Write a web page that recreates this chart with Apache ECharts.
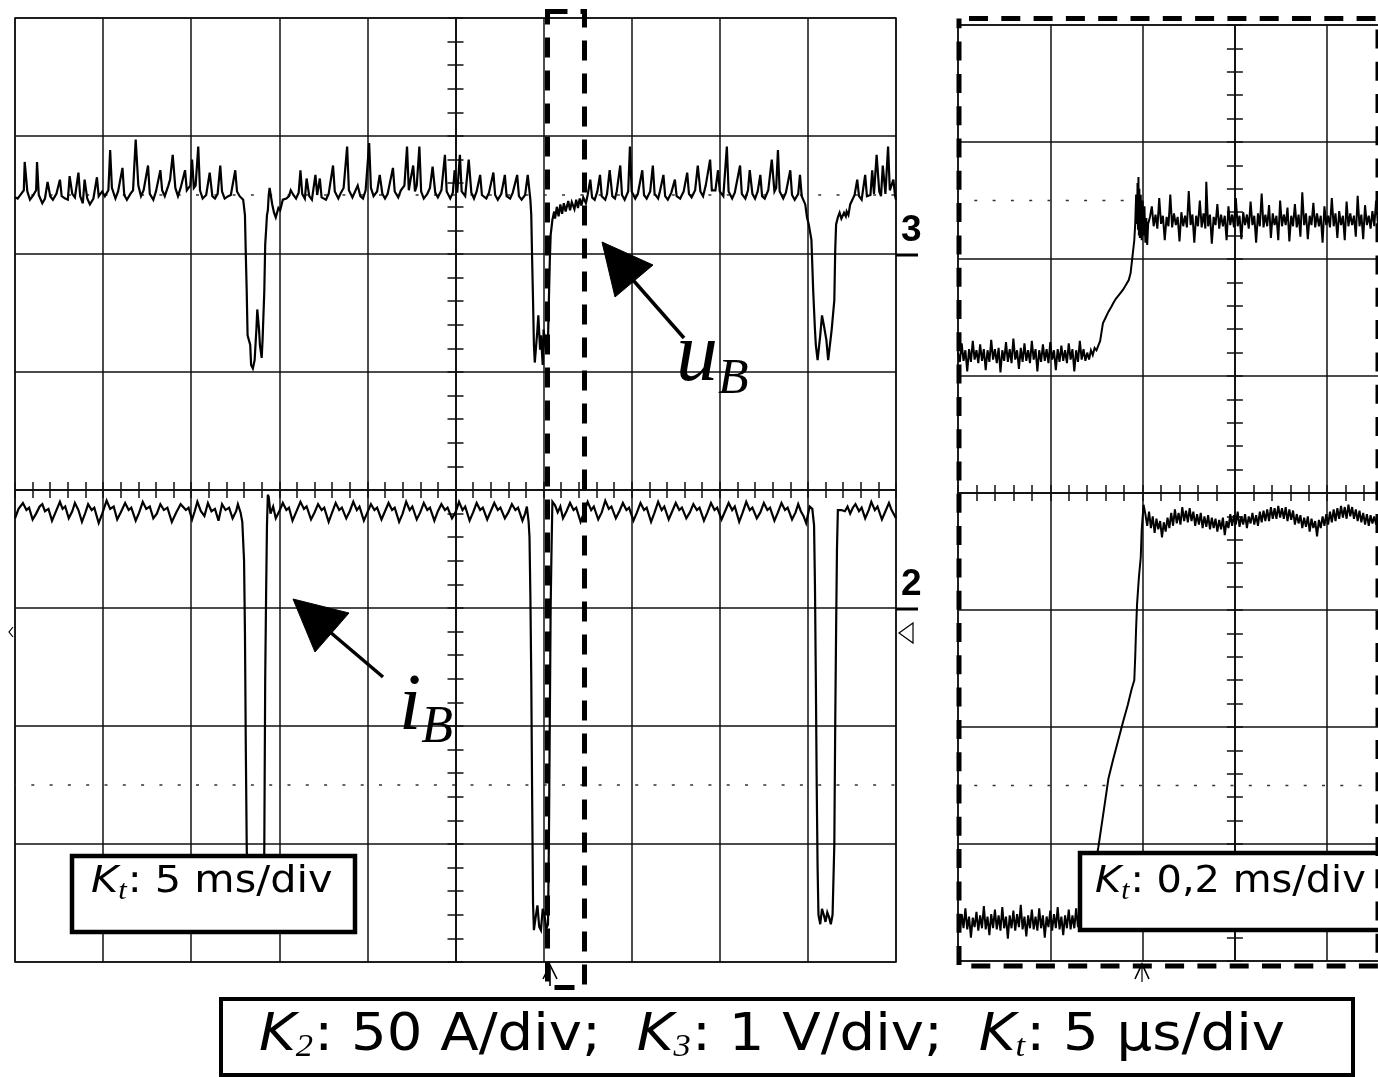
<!DOCTYPE html>
<html><head><meta charset="utf-8">
<script src="https://cdn.jsdelivr.net/npm/echarts@6/dist/echarts.min.js"></script>
<style>html,body{margin:0;padding:0;background:#fff}#c{width:1378px;height:1077px}</style>
</head><body><div id="c"></div>
<script>
// ---- Left screen (5 ms/div), x and y in divisions from screen centre ----
const uB_left = [
[-5,2.48],[-4.97,2.47],[-4.93,2.51],[-4.90,2.54],[-4.89,2.78],[-4.86,2.53],[-4.83,2.46],[-4.80,2.49],[-4.76,2.54],[-4.75,2.78],[-4.73,2.50],[-4.69,2.43],[-4.66,2.47],[-4.63,2.61],[-4.60,2.49],[-4.57,2.46],[-4.53,2.51],[-4.49,2.63],[-4.47,2.49],[-4.43,2.47],[-4.40,2.46],[-4.38,2.66],[-4.35,2.51],[-4.32,2.48],[-4.28,2.69],[-4.26,2.49],[-4.23,2.43],[-4.21,2.63],[-4.18,2.47],[-4.15,2.42],[-4.11,2.47],[-4.07,2.65],[-4.05,2.49],[-4.01,2.53],[-3.98,2.49],[-3.94,2.54],[-3.92,2.88],[-3.90,2.56],[-3.86,2.47],[-3.83,2.53],[-3.78,2.73],[-3.76,2.50],[-3.73,2.46],[-3.69,2.51],[-3.66,2.54],[-3.63,2.97],[-3.60,2.58],[-3.57,2.49],[-3.54,2.54],[-3.49,2.75],[-3.47,2.51],[-3.43,2.46],[-3.40,2.53],[-3.35,2.71],[-3.33,2.54],[-3.30,2.49],[-3.26,2.58],[-3.24,2.63],[-3.21,2.84],[-3.18,2.56],[-3.15,2.49],[-3.12,2.56],[-3.07,2.71],[-3.05,2.54],[-3.01,2.58],[-2.99,2.80],[-2.97,2.56],[-2.95,2.58],[-2.92,2.91],[-2.90,2.54],[-2.87,2.47],[-2.83,2.50],[-2.79,2.69],[-2.76,2.49],[-2.73,2.47],[-2.70,2.51],[-2.67,2.75],[-2.65,2.53],[-2.62,2.47],[-2.58,2.49],[-2.55,2.50],[-2.50,2.71],[-2.48,2.53],[-2.45,2.49],[-2.41,2.46],[-2.39,2.33],
[-2.38,1.99],[-2.37,1.69],[-2.36,1.31],[-2.33,1.23],[-2.32,1.06],[-2.30,1.03],[-2.28,1.10],[-2.26,1.36],[-2.25,1.53],[-2.23,1.36],[-2.22,1.23],[-2.20,1.12],[-2.19,1.27],[-2.17,1.69],[-2.16,2.08],[-2.15,2.20],[-2.14,2.33],[-2.13,2.37],[-2.12,2.50],[-2.11,2.56],[-2.08,2.42],[-2.06,2.35],[-2.04,2.31],[-2.01,2.39],[-1.99,2.37],[-1.96,2.46],[-1.92,2.47],[-1.89,2.49],
[-1.87,2.54],[-1.84,2.50],[-1.81,2.47],[-1.78,2.52],[-1.76,2.71],[-1.74,2.51],[-1.71,2.47],[-1.69,2.64],[-1.66,2.49],[-1.63,2.46],[-1.59,2.67],[-1.57,2.50],[-1.54,2.64],[-1.52,2.48],[-1.47,2.46],[-1.44,2.51],[-1.39,2.75],[-1.37,2.53],[-1.33,2.47],[-1.30,2.52],[-1.27,2.56],[-1.23,2.91],[-1.21,2.54],[-1.17,2.48],[-1.14,2.53],[-1.11,2.58],[-1.08,2.49],[-1.05,2.47],[-1.02,2.54],[-0.98,2.94],[-0.96,2.56],[-0.93,2.49],[-0.89,2.53],[-0.86,2.67],[-0.83,2.51],[-0.80,2.47],[-0.77,2.51],[-0.71,2.73],[-0.69,2.53],[-0.65,2.48],[-0.62,2.54],[-0.58,2.58],[-0.55,2.91],[-0.53,2.54],[-0.51,2.63],[-0.48,2.75],[-0.46,2.53],[-0.44,2.58],[-0.41,2.91],[-0.39,2.53],[-0.36,2.47],[-0.32,2.51],[-0.29,2.56],[-0.26,2.74],[-0.23,2.52],[-0.20,2.48],[-0.16,2.54],[-0.12,2.84],[-0.10,2.53],[-0.06,2.47],[-0.03,2.52],[-0.01,2.71],[0.02,2.52],[0.05,2.84],[0.07,2.53],[0.11,2.49],[0.15,2.80],[0.18,2.52],[0.21,2.47],[0.24,2.53],[0.28,2.67],[0.30,2.50],[0.35,2.47],[0.38,2.52],[0.43,2.69],[0.45,2.50],[0.48,2.46],[0.52,2.51],[0.56,2.67],[0.58,2.49],[0.62,2.47],[0.65,2.52],[0.70,2.67],[0.72,2.49],[0.75,2.46],[0.79,2.50],[0.82,2.67],[0.85,2.46],
[0.86,2.33],[0.87,1.95],[0.88,1.61],[0.89,1.23],[0.90,1.08],[0.93,1.36],[0.94,1.48],[0.96,1.19],[0.97,1.31],[0.99,1.06],[1.00,1.36],[1.03,1.17],[1.05,1.27],[1.06,1.61],[1.07,1.93],[1.08,2.16],[1.10,2.29],[1.12,2.36],[1.13,2.30],[1.15,2.40],[1.17,2.32],[1.19,2.42],[1.21,2.34],[1.23,2.43],[1.25,2.36],[1.28,2.45],[1.30,2.37],[1.32,2.44],[1.35,2.38],[1.37,2.46],[1.39,2.39],[1.41,2.47],[1.43,2.41],[1.45,2.48],[1.48,2.43],[1.50,2.50],
[1.53,2.63],[1.55,2.48],[1.58,2.46],[1.61,2.53],[1.64,2.67],[1.66,2.49],[1.70,2.46],[1.72,2.51],[1.75,2.71],[1.78,2.49],[1.81,2.47],[1.83,2.53],[1.87,2.75],[1.89,2.50],[1.92,2.46],[1.96,2.53],[1.98,2.91],[2.00,2.53],[2.04,2.47],[2.07,2.51],[2.12,2.71],[2.14,2.50],[2.17,2.47],[2.21,2.53],[2.24,2.75],[2.26,2.51],[2.30,2.47],[2.32,2.53],[2.36,2.67],[2.38,2.49],[2.41,2.46],[2.45,2.52],[2.49,2.63],[2.51,2.49],[2.55,2.47],[2.59,2.53],[2.63,2.69],[2.65,2.51],[2.68,2.48],[2.72,2.54],[2.75,2.75],[2.78,2.53],[2.81,2.49],[2.84,2.58],[2.89,2.80],[2.91,2.54],[2.95,2.54],[2.98,2.71],[3.00,2.53],[3.04,2.49],[3.08,2.91],[3.10,2.53],[3.14,2.47],[3.17,2.52],[3.23,2.75],[3.25,2.51],[3.29,2.47],[3.32,2.54],[3.34,2.71],[3.37,2.51],[3.40,2.47],[3.43,2.53],[3.46,2.67],[3.48,2.49],[3.51,2.47],[3.55,2.54],[3.59,2.80],[3.62,2.53],[3.64,2.56],[3.66,2.88],[3.68,2.53],[3.72,2.47],[3.75,2.52],[3.80,2.71],[3.82,2.50],[3.85,2.46],[3.89,2.51],[3.91,2.67],[3.93,2.49],[3.97,2.42],[3.99,2.31],
[4.01,2.25],[4.04,2.12],[4.06,1.69],[4.08,1.36],[4.09,1.23],[4.11,1.10],[4.14,1.31],[4.16,1.48],[4.18,1.40],[4.21,1.27],[4.23,1.10],[4.25,1.23],[4.27,1.36],[4.30,1.61],[4.31,2.03],[4.32,2.25],[4.34,2.31],[4.36,2.35],[4.38,2.30],[4.41,2.35],[4.43,2.32],[4.44,2.36],[4.46,2.33],[4.48,2.42],[4.50,2.43],[4.53,2.50],
[4.56,2.63],[4.58,2.49],[4.61,2.46],[4.65,2.67],[4.67,2.49],[4.71,2.50],[4.73,2.71],[4.75,2.51],[4.78,2.84],[4.81,2.53],[4.83,2.49],[4.85,2.75],[4.88,2.51],[4.91,2.91],[4.93,2.54],[4.97,2.63],[4.99,2.49],[5.00,2.46]
];
const iB_left = [
[-5,-0.24],[-4.96,-0.16],[-4.91,-0.11],[-4.87,-0.17],[-4.84,-0.15],[-4.80,-0.25],[-4.76,-0.20],[-4.72,-0.14],[-4.69,-0.12],[-4.66,-0.18],[-4.62,-0.16],[-4.58,-0.26],[-4.54,-0.19],[-4.49,-0.10],[-4.46,-0.16],[-4.43,-0.14],[-4.39,-0.24],[-4.35,-0.18],[-4.32,-0.11],[-4.28,-0.17],[-4.24,-0.27],[-4.20,-0.19],[-4.17,-0.12],[-4.13,-0.17],[-4.10,-0.15],[-4.05,-0.28],[-4.01,-0.20],[-3.96,-0.09],[-3.92,-0.16],[-3.88,-0.14],[-3.84,-0.25],[-3.80,-0.19],[-3.75,-0.11],[-3.71,-0.17],[-3.68,-0.15],[-3.63,-0.26],[-3.59,-0.19],[-3.55,-0.10],[-3.51,-0.16],[-3.47,-0.14],[-3.43,-0.24],[-3.39,-0.20],[-3.35,-0.12],[-3.31,-0.17],[-3.27,-0.15],[-3.22,-0.27],[-3.17,-0.19],[-3.12,-0.12],[-3.10,-0.11],[-3.06,-0.17],[-3.03,-0.15],[-2.99,-0.25],[-2.96,-0.18],[-2.93,-0.10],[-2.89,-0.18],[-2.85,-0.22],[-2.81,-0.11],[-2.77,-0.18],[-2.73,-0.16],[-2.69,-0.26],[-2.65,-0.12],[-2.61,-0.17],[-2.57,-0.15],[-2.53,-0.24],[-2.49,-0.18],[-2.47,-0.12],[-2.44,-0.19],[-2.42,-0.27],
[-2.41,-0.28],[-2.40,-0.6],[-2.39,-1.2],[-2.38,-2.2],[-2.37,-3.0],[-2.36,-3.6],[-2.35,-3.72],
[-2.32,-3.55],[-2.29,-3.74],[-2.26,-3.58],[-2.23,-3.72],[-2.20,-3.65],[-2.18,-3.73],
[-2.17,-3.0],[-2.16,-1.6],[-2.15,-0.9],[-2.14,-0.3],[-2.13,-0.04],
[-2.12,-0.06],[-2.10,-0.20],[-2.07,-0.14],[-2.04,-0.24],[-2.00,-0.18],[-1.96,-0.11],[-1.92,-0.17],[-1.89,-0.15],[-1.85,-0.26],[-1.81,-0.19],[-1.76,-0.10],[-1.72,-0.16],[-1.69,-0.14],[-1.64,-0.25],[-1.60,-0.19],[-1.56,-0.12],[-1.52,-0.17],[-1.49,-0.15],[-1.44,-0.27],[-1.40,-0.19],[-1.36,-0.11],[-1.32,-0.17],[-1.29,-0.15],[-1.24,-0.24],[-1.20,-0.18],[-1.16,-0.10],[-1.12,-0.17],[-1.09,-0.14],[-1.04,-0.26],[-1.00,-0.19],[-0.96,-0.12],[-0.92,-0.17],[-0.89,-0.15],[-0.84,-0.25],[-0.80,-0.18],[-0.76,-0.11],[-0.72,-0.17],[-0.69,-0.15],[-0.64,-0.27],[-0.60,-0.20],[-0.56,-0.10],[-0.52,-0.17],[-0.49,-0.14],[-0.44,-0.25],[-0.40,-0.19],[-0.36,-0.11],[-0.32,-0.17],[-0.29,-0.15],[-0.24,-0.26],[-0.20,-0.18],[-0.16,-0.12],[-0.12,-0.17],[-0.09,-0.15],[-0.04,-0.24],[0.00,-0.19],[0.04,-0.10],[0.08,-0.17],[0.11,-0.14],[0.16,-0.26],[0.20,-0.19],[0.24,-0.11],[0.28,-0.17],[0.31,-0.15],[0.36,-0.25],[0.40,-0.18],[0.44,-0.11],[0.48,-0.17],[0.51,-0.15],[0.56,-0.24],[0.60,-0.19],[0.64,-0.12],[0.68,-0.17],[0.71,-0.15],[0.76,-0.26],[0.79,-0.20],[0.81,-0.14],[0.83,-0.27],
[0.84,-0.40],[0.85,-0.9],[0.86,-1.6],[0.87,-2.6],[0.88,-3.5],[0.89,-3.73],
[0.91,-3.62],[0.93,-3.52],[0.95,-3.70],[0.97,-3.73],[0.99,-3.55],[1.01,-3.60],[1.03,-3.72],[1.05,-3.68],
[1.06,-3.0],[1.07,-2.0],[1.08,-1.0],[1.09,-0.5],[1.10,-0.10],
[1.13,-0.13],[1.16,-0.19],[1.19,-0.14],[1.22,-0.24],[1.26,-0.18],[1.30,-0.11],[1.34,-0.17],[1.37,-0.15],[1.42,-0.27],[1.46,-0.19],[1.50,-0.10],[1.54,-0.17],[1.57,-0.14],[1.62,-0.25],[1.66,-0.19],[1.70,-0.09],[1.74,-0.16],[1.77,-0.14],[1.82,-0.24],[1.86,-0.18],[1.90,-0.11],[1.94,-0.17],[1.97,-0.15],[2.02,-0.26],[2.06,-0.19],[2.10,-0.11],[2.14,-0.17],[2.17,-0.15],[2.22,-0.27],[2.26,-0.19],[2.30,-0.10],[2.34,-0.17],[2.37,-0.14],[2.42,-0.25],[2.46,-0.18],[2.50,-0.11],[2.54,-0.17],[2.57,-0.15],[2.62,-0.24],[2.66,-0.19],[2.70,-0.12],[2.74,-0.17],[2.77,-0.15],[2.82,-0.26],[2.86,-0.19],[2.90,-0.11],[2.94,-0.17],[2.97,-0.15],[3.02,-0.25],[3.06,-0.18],[3.10,-0.11],[3.14,-0.17],[3.17,-0.14],[3.22,-0.27],[3.26,-0.19],[3.30,-0.10],[3.34,-0.17],[3.37,-0.15],[3.42,-0.24],[3.46,-0.19],[3.50,-0.11],[3.54,-0.17],[3.57,-0.15],[3.62,-0.26],[3.66,-0.19],[3.70,-0.11],[3.74,-0.17],[3.77,-0.15],[3.82,-0.25],[3.86,-0.19],[3.89,-0.12],[3.92,-0.18],[3.95,-0.22],[3.98,-0.28],
[4.02,-0.14],[4.05,-0.16],[4.07,-0.30],
[4.08,-0.8],[4.09,-1.6],[4.10,-2.5],[4.11,-3.2],[4.12,-3.60],
[4.14,-3.68],[4.16,-3.55],[4.18,-3.60],[4.20,-3.66],[4.22,-3.58],[4.24,-3.62],[4.26,-3.68],[4.28,-3.60],
[4.30,-3.0],[4.31,-2.0],[4.32,-1.2],[4.33,-0.5],[4.34,-0.17],
[4.38,-0.17],[4.42,-0.18],[4.45,-0.14],[4.48,-0.20],[4.51,-0.15],[4.54,-0.12],[4.58,-0.18],[4.61,-0.15],[4.65,-0.24],[4.69,-0.17],[4.72,-0.10],[4.76,-0.17],[4.79,-0.14],[4.84,-0.25],[4.88,-0.18],[4.92,-0.11],[4.95,-0.17],[5.00,-0.24]
];
// ---- Right screen (0,2 ms/div), x in divisions from its centre line ----
const uB_right = [
[-3.00,1.20],[-2.98,1.12],[-2.96,1.28],[-2.94,1.13],[-2.92,1.22],[-2.90,1.04],[-2.88,1.23],[-2.86,1.12],[-2.84,1.30],[-2.82,1.14],[-2.80,1.22],[-2.78,1.11],[-2.76,1.27],[-2.74,1.13],[-2.72,1.23],[-2.70,1.05],[-2.68,1.22],[-2.66,1.12],[-2.64,1.31],[-2.62,1.14],[-2.60,1.23],[-2.58,1.11],[-2.56,1.24],[-2.54,1.03],[-2.52,1.22],[-2.50,1.13],[-2.48,1.29],[-2.46,1.12],[-2.44,1.23],[-2.42,1.11],[-2.40,1.32],[-2.38,1.14],[-2.36,1.22],[-2.34,1.06],[-2.32,1.24],[-2.30,1.12],[-2.28,1.28],[-2.26,1.13],[-2.24,1.22],[-2.22,1.11],[-2.20,1.30],[-2.18,1.14],[-2.16,1.23],[-2.14,1.04],[-2.12,1.22],[-2.10,1.12],[-2.08,1.27],[-2.06,1.13],[-2.04,1.23],[-2.02,1.11],[-2.00,1.29],[-1.98,1.14],[-1.96,1.22],[-1.94,1.05],[-1.92,1.23],[-1.90,1.12],[-1.88,1.26],[-1.86,1.13],[-1.84,1.22],[-1.82,1.11],[-1.80,1.28],[-1.78,1.14],[-1.76,1.23],[-1.74,1.04],[-1.72,1.22],[-1.70,1.12],[-1.68,1.30],[-1.66,1.14],[-1.64,1.23],[-1.62,1.13],[-1.60,1.20],[-1.58,1.14],[-1.56,1.22],[-1.54,1.18],[-1.52,1.24],[-1.50,1.22],[-1.48,1.26],
[-1.46,1.30],[-1.43,1.45],[-1.40,1.50],[-1.37,1.55],[-1.34,1.59],[-1.32,1.62],[-1.29,1.66],[-1.26,1.69],[-1.23,1.72],[-1.21,1.74],[-1.18,1.78],[-1.15,1.82],[-1.13,1.88],[-1.11,2.02],[-1.09,2.16],[-1.08,2.30],[-1.07,2.55],[-1.06,2.30],[-1.055,2.65],[-1.05,2.25],[-1.045,2.70],[-1.04,2.20],[-1.035,2.60],[-1.03,2.18],[-1.02,2.55],[-1.01,2.16],[-1.00,2.50],[-0.99,2.20],[-0.98,2.45],[-0.97,2.14],[-0.96,2.35],[-0.95,2.12],[-0.94,2.30],[-0.92,2.36],
[-0.90,2.45],[-0.88,2.28],[-0.86,2.38],[-0.84,2.26],[-0.82,2.52],[-0.80,2.30],[-0.78,2.37],[-0.76,2.16],[-0.74,2.36],[-0.72,2.28],[-0.70,2.55],[-0.68,2.27],[-0.66,2.39],[-0.64,2.29],[-0.62,2.36],[-0.60,2.15],[-0.58,2.40],[-0.56,2.28],[-0.54,2.37],[-0.52,2.27],[-0.50,2.58],[-0.48,2.29],[-0.46,2.38],[-0.44,2.14],[-0.42,2.37],[-0.40,2.28],[-0.38,2.50],[-0.36,2.27],[-0.34,2.39],[-0.32,2.26],[-0.31,2.66],[-0.29,2.28],[-0.27,2.38],[-0.25,2.13],[-0.23,2.36],[-0.21,2.29],[-0.19,2.47],[-0.17,2.26],[-0.15,2.38],[-0.13,2.28],[-0.11,2.37],[-0.09,2.16],[-0.07,2.45],[-0.05,2.29],[-0.03,2.38],[-0.01,2.27],[0.01,2.52],[0.03,2.28],[0.05,2.37],[0.07,2.17],[0.09,2.40],[0.11,2.29],[0.13,2.38],[0.15,2.26],[0.17,2.49],[0.19,2.29],[0.21,2.37],[0.23,2.14],[0.25,2.39],[0.27,2.28],[0.29,2.56],[0.31,2.27],[0.33,2.38],[0.35,2.28],[0.37,2.46],[0.39,2.18],[0.41,2.39],[0.43,2.29],[0.45,2.37],[0.47,2.16],[0.49,2.50],[0.51,2.28],[0.53,2.38],[0.55,2.29],[0.57,2.44],[0.59,2.15],[0.61,2.37],[0.63,2.28],[0.65,2.47],[0.67,2.27],[0.69,2.38],[0.71,2.19],[0.73,2.57],[0.75,2.29],[0.77,2.39],[0.79,2.17],[0.81,2.37],[0.83,2.29],[0.85,2.48],[0.87,2.27],[0.89,2.39],[0.91,2.28],[0.93,2.37],[0.95,2.14],[0.97,2.45],[0.99,2.29],[1.01,2.37],[1.03,2.27],[1.05,2.52],[1.07,2.28],[1.09,2.39],[1.11,2.18],[1.13,2.41],[1.15,2.29],[1.17,2.37],[1.19,2.16],[1.21,2.49],[1.23,2.28],[1.25,2.39],[1.27,2.29],[1.29,2.37],[1.31,2.19],[1.33,2.54],[1.35,2.28],[1.37,2.38],[1.39,2.17],[1.41,2.46],[1.43,2.29],[1.45,2.37],[1.47,2.26],[1.49,2.41],[1.51,2.28],[1.53,2.50],[1.55,2.29],[1.57,2.37],[1.59,2.19],[1.61,2.42],[1.63,2.30]
];
const iB_right = [
[-3.00,-3.66],[-2.98,-3.74],[-2.96,-3.60],[-2.94,-3.72],[-2.92,-3.55],[-2.90,-3.73],[-2.88,-3.62],[-2.86,-3.80],[-2.84,-3.63],[-2.82,-3.71],[-2.80,-3.58],[-2.78,-3.74],[-2.76,-3.61],[-2.74,-3.72],[-2.72,-3.53],[-2.70,-3.73],[-2.68,-3.62],[-2.66,-3.78],[-2.64,-3.60],[-2.62,-3.72],[-2.60,-3.56],[-2.58,-3.73],[-2.56,-3.61],[-2.54,-3.74],[-2.52,-3.54],[-2.50,-3.72],[-2.48,-3.62],[-2.46,-3.81],[-2.44,-3.61],[-2.42,-3.72],[-2.40,-3.57],[-2.38,-3.74],[-2.36,-3.60],[-2.34,-3.71],[-2.32,-3.52],[-2.30,-3.73],[-2.28,-3.62],[-2.26,-3.79],[-2.24,-3.61],[-2.22,-3.72],[-2.20,-3.56],[-2.18,-3.73],[-2.16,-3.62],[-2.14,-3.74],[-2.12,-3.55],[-2.10,-3.72],[-2.08,-3.61],[-2.06,-3.80],[-2.04,-3.62],[-2.02,-3.71],[-2.00,-3.57],[-1.98,-3.74],[-1.96,-3.60],[-1.94,-3.72],[-1.92,-3.54],[-1.90,-3.73],[-1.88,-3.62],[-1.86,-3.78],[-1.84,-3.61],[-1.82,-3.72],[-1.80,-3.56],[-1.78,-3.73],[-1.76,-3.61],[-1.74,-3.72],[-1.72,-3.55],[-1.70,-3.71],[-1.68,-3.62],[-1.66,-3.74],[-1.64,-3.60],[-1.62,-3.70],[-1.60,-3.64],
[-1.56,-3.40],[-1.52,-3.20],[-1.48,-3.03],[-1.42,-2.71],[-1.37,-2.44],[-1.32,-2.28],[-1.27,-2.13],[-1.21,-1.95],[-1.16,-1.81],[-1.12,-1.68],[-1.09,-1.60],[-1.08,-1.40],[-1.07,-1.15],[-1.06,-0.95],[-1.04,-0.72],[-1.02,-0.55],[-1.01,-0.32],[-0.99,-0.10],
[-0.97,-0.18],[-0.95,-0.28],[-0.93,-0.16],[-0.91,-0.30],[-0.89,-0.20],[-0.87,-0.34],[-0.85,-0.22],[-0.83,-0.31],[-0.81,-0.24],[-0.79,-0.38],[-0.77,-0.25],[-0.75,-0.33],[-0.73,-0.21],[-0.71,-0.30],[-0.69,-0.17],[-0.67,-0.28],[-0.65,-0.14],[-0.63,-0.26],[-0.61,-0.17],[-0.59,-0.27],[-0.57,-0.12],[-0.55,-0.24],[-0.53,-0.15],[-0.51,-0.25],[-0.49,-0.13],[-0.47,-0.24],[-0.45,-0.16],[-0.43,-0.28],[-0.41,-0.18],[-0.39,-0.27],[-0.37,-0.17],[-0.35,-0.30],[-0.33,-0.20],[-0.31,-0.29],[-0.29,-0.19],[-0.27,-0.31],[-0.25,-0.21],[-0.23,-0.30],[-0.21,-0.22],[-0.19,-0.33],[-0.17,-0.23],[-0.15,-0.31],[-0.13,-0.21],[-0.11,-0.36],[-0.09,-0.24],[-0.07,-0.30],[-0.05,-0.18],[-0.03,-0.28],[-0.01,-0.19],[0.01,-0.27],[0.03,-0.16],[0.05,-0.29],[0.07,-0.20],[0.09,-0.27],[0.11,-0.18],[0.13,-0.30],[0.15,-0.20],[0.17,-0.26],[0.19,-0.17],[0.21,-0.27],[0.23,-0.19],[0.25,-0.28],[0.27,-0.16],[0.29,-0.25],[0.31,-0.15],[0.33,-0.24],[0.35,-0.14],[0.37,-0.24],[0.39,-0.12],[0.41,-0.22],[0.43,-0.13],[0.45,-0.22],[0.47,-0.11],[0.49,-0.21],[0.51,-0.13],[0.53,-0.22],[0.55,-0.12],[0.57,-0.24],[0.59,-0.14],[0.61,-0.23],[0.63,-0.15],[0.65,-0.27],[0.67,-0.18],[0.69,-0.26],[0.71,-0.19],[0.73,-0.30],[0.75,-0.21],[0.77,-0.29],[0.79,-0.20],[0.81,-0.33],[0.83,-0.22],[0.85,-0.30],[0.87,-0.24],[0.89,-0.37],[0.91,-0.23],[0.93,-0.30],[0.95,-0.20],[0.97,-0.28],[0.99,-0.18],[1.01,-0.27],[1.03,-0.16],[1.05,-0.25],[1.07,-0.14],[1.09,-0.24],[1.11,-0.13],[1.13,-0.22],[1.15,-0.11],[1.17,-0.21],[1.19,-0.12],[1.21,-0.22],[1.23,-0.10],[1.25,-0.20],[1.27,-0.12],[1.29,-0.22],[1.31,-0.14],[1.33,-0.24],[1.35,-0.15],[1.37,-0.25],[1.39,-0.17],[1.41,-0.27],[1.43,-0.18],[1.45,-0.28],[1.47,-0.19],[1.49,-0.26],[1.51,-0.20],[1.53,-0.27],[1.55,-0.19],[1.57,-0.26],[1.59,-0.21],[1.61,-0.25],[1.63,-0.22]
];
// reference (dotted) levels, in divisions
const refLeft = [[[-5,2.5],[5,2.5]], [[-5,-2.5],[5,-2.5]]];
const refRight = [[[-3,2.5],[-1.1,2.5]], [[-3,-2.5],[5,-2.5]]];
// scale texts
const labelLeft = ['K','t',': 5 ms/div'];
const labelRight = ['K','t',': 0,2 ms/div'];
const labelBottom = [['K','2',': 50 A/div;  '],['K','3',': 1 V/div;  '],['K','t',': 5 \u03bcs/div']];

const INK = '#111';
function mainX(g,min,max){return {type:'value',gridIndex:g,min:min,max:max,interval:1,
  axisLine:{show:false,onZero:false},axisTick:{show:false},axisLabel:{show:false},
  splitLine:{show:true,lineStyle:{color:INK,width:1.5}}};}
function mainY(g){return {type:'value',gridIndex:g,min:-4,max:4,interval:1,
  axisLine:{show:false,onZero:false},axisTick:{show:false},axisLabel:{show:false},
  splitLine:{show:true,lineStyle:{color:INK,width:1.5}}};}
function tickX(g,min,max,inside,yIdx){return {type:'value',gridIndex:g,min:min,max:max,interval:1,position:'bottom',
  axisLine:{show:true,onZero:true,onZeroAxisIndex:yIdx,lineStyle:{color:INK,width:1.5}},
  axisTick:{show:true,inside:inside,length:8,lineStyle:{color:INK,width:1.5}},
  minorTick:{show:true,splitNumber:5,length:8,lineStyle:{color:INK,width:1.5}},
  axisLabel:{show:false},splitLine:{show:false}};}
function tickY(g,inside,xIdx){return {type:'value',gridIndex:g,min:-4,max:4,interval:1,position:'left',
  axisLine:{show:true,onZero:true,onZeroAxisIndex:xIdx,lineStyle:{color:INK,width:1.5}},
  axisTick:{show:true,inside:inside,length:8,lineStyle:{color:INK,width:1.5}},
  minorTick:{show:true,splitNumber:5,length:8,lineStyle:{color:INK,width:1.5}},
  axisLabel:{show:false},splitLine:{show:false}};}
function trace(data,xi,yi,w){return {type:'line',xAxisIndex:xi,yAxisIndex:yi,data:data,showSymbol:false,
  symbol:'none',lineStyle:{color:'#000',width:w,join:'miter',miterLimit:4},animation:false,silent:true,z:5,clip:true};}
function dotted(data,xi,yi){return {type:'line',xAxisIndex:xi,yAxisIndex:yi,data:data,symbol:'none',
  lineStyle:{color:'#333',width:1.4,type:[3,15.3],dashOffset:2},animation:false,silent:true,z:3};}

function kText(x,y,parts,size,sub,pad,sx){
  let t='';
  parts.forEach(p=>{t+='{k|'+p[0]+'}{s|'+p[1]+'}{n|'+p[2]+'}';});
  return {type:'text',x:x,y:y,scaleX:sx,z:120,silent:true,style:{text:t,x:0,y:0,align:'left',verticalAlign:'middle',fill:'#000',
    fontFamily:'DejaVu Sans',fontSize:size,
    rich:{k:{fontFamily:'DejaVu Sans',fontStyle:'italic',fontSize:size,fill:'#000'},
          s:{fontFamily:'Liberation Serif',fontStyle:'italic',fontSize:sub,padding:[pad,1,0,0],fill:'#000'},
          n:{fontFamily:'DejaVu Sans',fontSize:size,fill:'#000'}}}};
}
function symText(x,y,main,sub,ms,ss,pad){
  return {type:'text',x:x,y:y,z:120,silent:true,style:{text:'{m|'+main+'}{b|'+sub+'}',x:0,y:0,align:'left',verticalAlign:'middle',fill:'#000',
    rich:{m:{fontFamily:'Liberation Serif',fontStyle:'italic',fontSize:ms,fill:'#000'},
          b:{fontFamily:'Liberation Serif',fontStyle:'italic',fontSize:ss,padding:[pad,0,0,0],fill:'#000'}}}};
}
const box=(x,y,w,h,lw)=>({type:'rect',z:110,silent:true,shape:{x:x,y:y,width:w,height:h},style:{fill:'#fff',stroke:'#000',lineWidth:lw}});
const dashBox=(x,y,w,h,lw,dash,off)=>({type:'rect',z:115,silent:true,shape:{x:x,y:y,width:w,height:h},style:{fill:'none',stroke:'#000',lineWidth:lw,lineDash:dash,lineDashOffset:off}});
const seg=(pts,lw)=>({type:'polyline',z:118,silent:true,shape:{points:pts},style:{stroke:'#000',lineWidth:lw,fill:'none'}});
const tri=(pts,fill)=>({type:'polygon',z:118,silent:true,shape:{points:pts},style:fill?{fill:'#000',stroke:'#000',lineWidth:1}:{fill:'none',stroke:'#000',lineWidth:1.2}});

const chart = echarts.init(document.getElementById('c'),null,{renderer:'canvas'});
chart.setOption({
  animation:false,
  backgroundColor:'#fff',
  grid:[
    {left:15,top:18,width:881,height:944,show:true,borderColor:INK,borderWidth:1.5,backgroundColor:'transparent',outerBoundsMode:'none',containLabel:false},
    {left:958,top:25,width:738.4,height:936,show:true,borderColor:INK,borderWidth:1.5,backgroundColor:'transparent',outerBoundsMode:'none',containLabel:false}
  ],
  xAxis:[mainX(0,-5,5),tickX(0,-5,5,false,0),tickX(0,-5,5,true,0),mainX(1,-3,5),tickX(1,-3,5,false,3),tickX(1,-3,5,true,3)],
  yAxis:[mainY(0),tickY(0,false,0),tickY(0,true,0),mainY(1),tickY(1,false,3),tickY(1,true,3)],
  series:[
    dotted(refLeft[0],0,0),dotted(refLeft[1],0,0),
    dotted(refRight[0],3,3),dotted(refRight[1],3,3),
    trace(uB_left,0,0,2.2),trace(iB_left,0,0,2.2),
    trace(uB_right,3,3,2.0),trace(iB_right,3,3,2.0)
  ],
  graphic:[
    // channel markers
    {type:'text',x:901,y:231,z:120,silent:true,style:{text:'3',verticalAlign:'middle',fontFamily:'Liberation Sans Narrow, Liberation Sans',fontWeight:'bold',fontSize:37,fill:'#000'}},
    seg([[896,255],[918,255]],3),
    {type:'text',x:901,y:585,z:120,silent:true,style:{text:'2',verticalAlign:'middle',fontFamily:'Liberation Sans Narrow, Liberation Sans',fontWeight:'bold',fontSize:37,fill:'#000'}},
    seg([[896,609],[918,609]],3),
    tri([[913,623],[899,633],[913,643]],false),
    seg([[13,627],[9,632],[13,637]],1.2),
    // trigger marks
    seg([[543,979],[550,965],[557,979]],1.6), seg([[550,966],[550,986]],1.6),
    seg([[1135,979],[1142,964],[1149,979]],1.6), seg([[1142,965],[1142,982]],1.2),
    // dashed zoom boxes
    dashBox(547.5,11.5,37,976,5,[20,13],0),
    dashBox(959,18.5,419,947.5,5,[19,13.3],-10),
    // arrows and labels
    tri([[602,242],[615,297],[653,265]],true), seg([[633,280],[684,338]],3.5),
    tri([[293,599],[315,652],[349,613]],true), seg([[330,632],[383,677]],3.5),
    symText(676,358,'u','B',84,50,44),
    symText(399,708,'i','B',80,52,41),
    // scale boxes
    box(72,856,283,76,4.5), kText(91,882,[labelLeft],38,28,20,1.09),
    box(1080,853,330,77,4.5), kText(1095,882,[labelRight],38,28,20,1.05),
    box(221,999,1132,76,4), kText(259,1036,labelBottom,52,32,24,1.08)
  ]
});
</script></body></html>
